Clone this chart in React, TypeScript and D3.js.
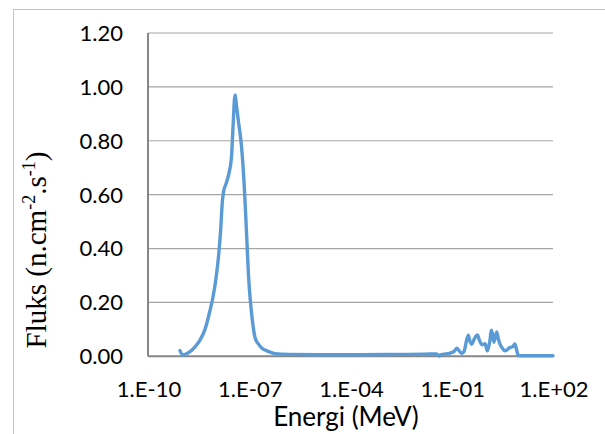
import React from "react";
import * as d3 from "d3";

const logEnergy: number[] = [
  -9.052, -8.972, -8.874, -8.756, -8.607, -8.459, -8.311, -8.163, -8.074, -7.985,
  -7.911, -7.852, -7.793, -7.763, -7.689, -7.6, -7.526, -7.481, -7.422, -7.378,
  -7.319, -7.23, -7.156, -7.111, -7.067, -7.022, -6.963, -6.904, -6.83, -6.726,
  -6.622, -6.474, -6.237, -5.793, -4.904, -3.719, -2.533, -1.793, -1.45, -1.37,
  -1.32, -1.05, -0.93, -0.85, -0.78, -0.7, -0.63, -0.56, -0.51, -0.46,
  -0.41, -0.33, -0.24, -0.18, -0.11, -0.01, 0.05, 0.12, 0.18, 0.25,
  0.33, 0.38, 0.43, 0.5, 0.58, 0.73, 0.81, 0.87, 0.93, 0.97,
  1.17, 2.0,
];
const flux: number[] = [
  0.021, 0.005, 0.008, 0.017, 0.035, 0.06, 0.1, 0.17, 0.22, 0.29,
  0.37, 0.46, 0.58, 0.61, 0.64, 0.68, 0.74, 0.85, 0.97, 0.93,
  0.87, 0.78, 0.65, 0.54, 0.42, 0.3, 0.2, 0.13, 0.07, 0.045,
  0.03, 0.02, 0.01, 0.007, 0.006, 0.006, 0.007, 0.008, 0.009, 0.001,
  0.006, 0.012, 0.018, 0.03, 0.02, 0.011, 0.02, 0.06, 0.078, 0.055,
  0.045, 0.065, 0.079, 0.06, 0.043, 0.047, 0.02, 0.05, 0.097, 0.052,
  0.09, 0.065, 0.045, 0.03, 0.02, 0.033, 0.036, 0.046, 0.02, 0.003,
  0.002, 0.002,
];
const xTickValues: number[] = [1e-10, 1e-7, 1e-4, 1e-1, 1e2];
const xTickLabels: string[] = ["1.E-10", "1.E-07", "1.E-04", "1.E-01", "1.E+02"];
const yTickValues: number[] = [0, 0.2, 0.4, 0.6, 0.8, 1.0, 1.2];
const yTickLabels: string[] = ["0.00", "0.20", "0.40", "0.60", "0.80", "1.00", "1.20"];

export default function App() {
  const W = 605;
  const H = 434;
  const x = d3.scaleLog().domain([1e-10, 1e2]).range([148, 553]);
  const y = d3.scaleLinear().domain([0, 1.2]).range([356.3, 33]);
  const pts = logEnergy.map((le, i) => [Math.pow(10, le), flux[i]] as [number, number]);
  const line = d3
    .line<[number, number]>()
    .x((d) => x(d[0]))
    .y((d) => y(d[1]))
    .curve(d3.curveMonotoneX);
  const tickFont = "Lato, 'Open Sans', sans-serif";
  return (
    <svg
      width={W}
      height={H}
      style={{ position: "absolute", left: 0, top: 0, background: "#fff" }}
    >
      <rect x={13.5} y={9.5} width={700} height={600} fill="none" stroke="#c4c4c4" strokeWidth={1} />
      {yTickValues.slice(1).map((v) => (
        <line key={v} x1={x(1e-10)} x2={x(1e2)} y1={y(v)} y2={y(v)} stroke="#a6a6a6" strokeWidth={1.2} />
      ))}
      <line x1={x(1e-10)} x2={x(1e-10)} y1={y(1.2)} y2={y(0)} stroke="#868686" strokeWidth={2} />
      <line x1={x(1e-10)} x2={x(1e2)} y1={y(0)} y2={y(0)} stroke="#868686" strokeWidth={2} />
      <path
        d={line(pts) || ""}
        fill="none"
        stroke="#5b9bd5"
        strokeWidth={3.4}
        strokeLinejoin="round"
        strokeLinecap="round"
      />
      {yTickValues.map((v, i) => (
        <text
          key={v}
          x={123}
          y={y(v)}
          dy="0.36em"
          textAnchor="end"
          fontFamily={tickFont}
          fontSize={22}
          fill="#000"
        >
          {yTickLabels[i]}
        </text>
      ))}
      {xTickValues.map((v, i) => (
        <text
          key={v}
          x={x(v) + 1}
          y={396.7}
          textAnchor="middle"
          fontFamily={tickFont}
          fontSize={22}
          fill="#000"
        >
          {xTickLabels[i]}
        </text>
      ))}
      <text x={346} y={426} textAnchor="middle" fontFamily={tickFont} fontSize={26} fill="#000">
        Energi (MeV)
      </text>
      <text
        transform="translate(46,250) rotate(-90)"
        textAnchor="middle"
        fontFamily="'Liberation Serif', 'Times New Roman', serif"
        fontSize={29}
        fill="#000"
      >
        Fluks (n.cm
        <tspan fontSize={18} dy={-11}>-2</tspan>
        <tspan dy={11}>.s</tspan>
        <tspan fontSize={18} dy={-11}>-1</tspan>
        <tspan dy={11}>)</tspan>
      </text>
    </svg>
  );
}
